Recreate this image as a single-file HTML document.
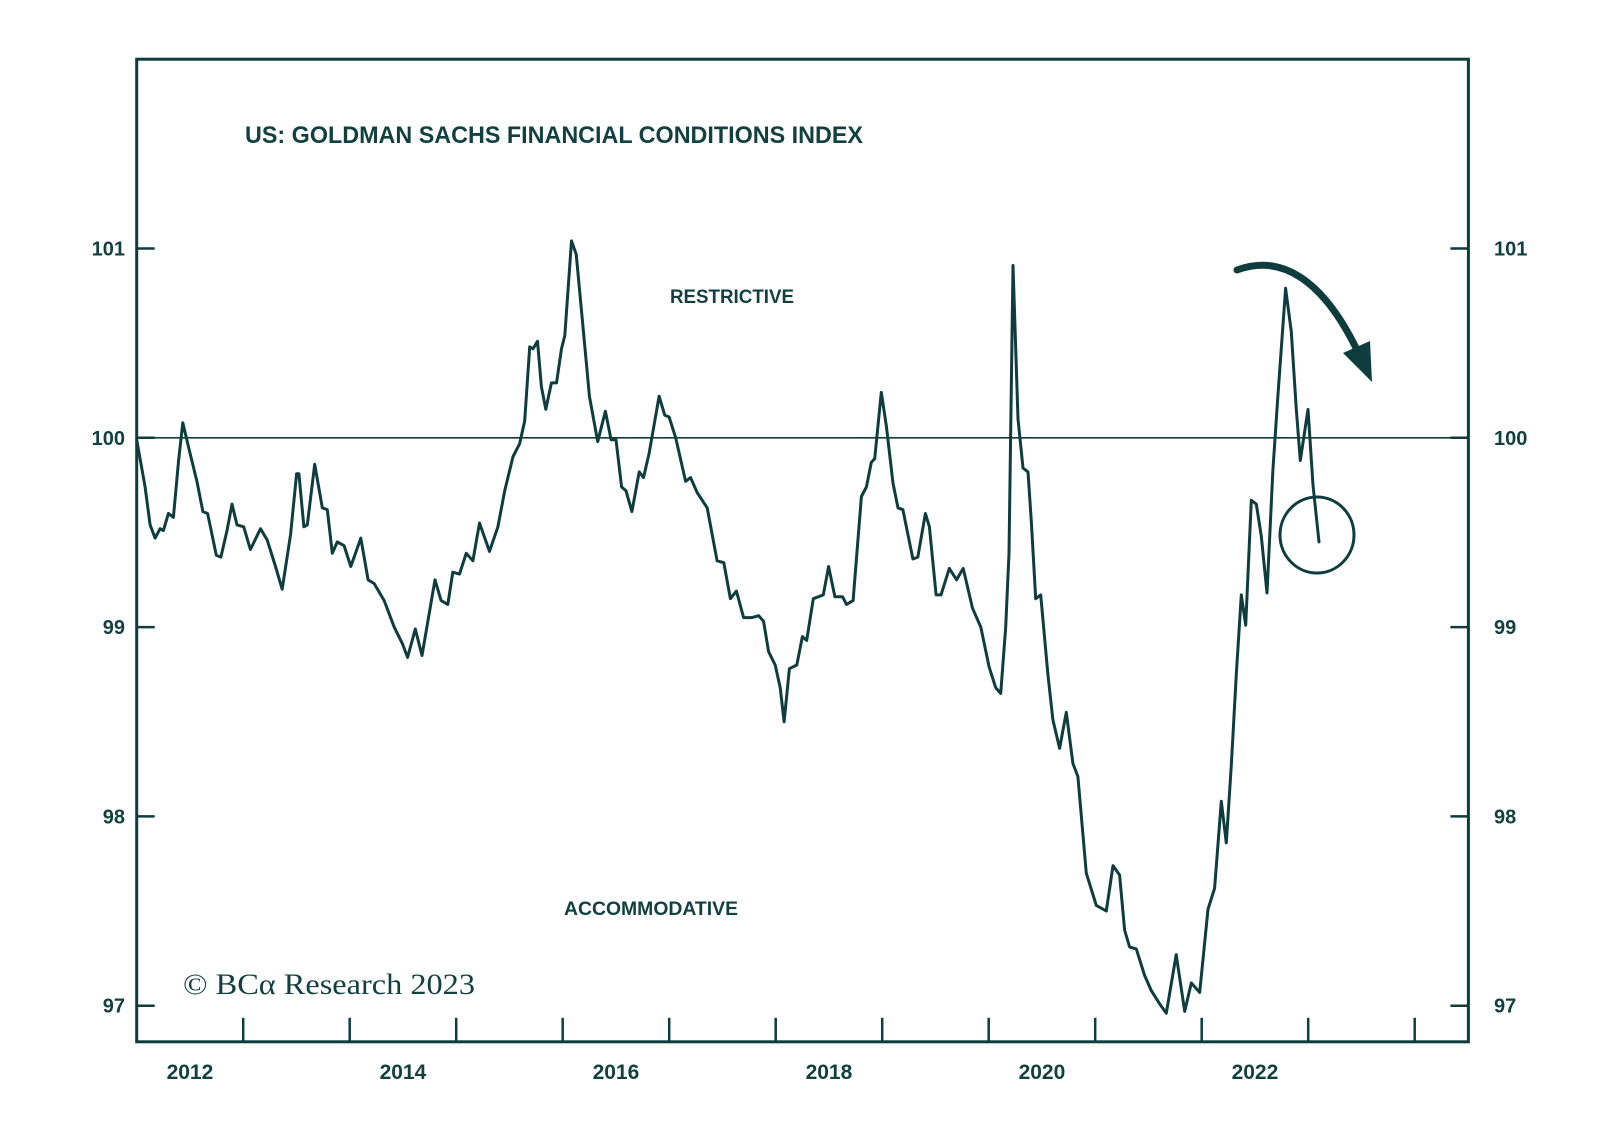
<!DOCTYPE html>
<html><head><meta charset="utf-8"><style>
html,body{margin:0;padding:0;background:#fff;}
svg{display:block;}
</style></head><body>
<svg id="chart" width="1600" height="1123" viewBox="0 0 1600 1123" xmlns="http://www.w3.org/2000/svg">
<rect x="0" y="0" width="1600" height="1123" fill="#ffffff"/>
<g id="axes"></g>
<g id="series"></g>
<text x="245" y="143" font-family="Liberation Sans, sans-serif" font-weight="bold" font-size="24" fill="#123f40" textLength="618" lengthAdjust="spacingAndGlyphs">US: GOLDMAN SACHS FINANCIAL CONDITIONS INDEX</text>
<text x="670" y="303" font-family="Liberation Sans, sans-serif" font-weight="bold" font-size="19" fill="#123f40" textLength="124" lengthAdjust="spacingAndGlyphs">RESTRICTIVE</text>
<text x="564" y="915" font-family="Liberation Sans, sans-serif" font-weight="bold" font-size="19" fill="#123f40" textLength="174" lengthAdjust="spacingAndGlyphs">ACCOMMODATIVE</text>
<text x="183" y="994" font-family="Liberation Serif, serif" font-size="30" fill="#123f40" textLength="292" lengthAdjust="spacingAndGlyphs">© BCα Research 2023</text>
<path d="M1237,270 C1280,254 1322,278 1357,350" fill="none" stroke="#0f3d3e" stroke-width="7" stroke-linecap="round"/>
<polygon points="1343,353 1370,341 1372,382" fill="#0f3d3e"/>
<ellipse cx="1317" cy="535" rx="37" ry="38" fill="none" stroke="#0f3d3e" stroke-width="3"/>
</svg>
<script>
const dates = [2012.000,2012.079,2012.126,2012.173,2012.220,2012.251,2012.298,2012.345,2012.393,2012.433,2012.487,2012.565,2012.622,2012.666,2012.747,2012.791,2012.848,2012.895,2012.942,2013.005,2013.068,2013.162,2013.225,2013.303,2013.366,2013.445,2013.501,2013.523,2013.570,2013.602,2013.671,2013.743,2013.790,2013.837,2013.884,2013.947,2014.010,2014.104,2014.173,2014.230,2014.324,2014.418,2014.497,2014.544,2014.616,2014.679,2014.801,2014.858,2014.921,2014.968,2015.031,2015.094,2015.157,2015.219,2015.313,2015.392,2015.455,2015.533,2015.596,2015.643,2015.690,2015.722,2015.763,2015.800,2015.841,2015.894,2015.942,2015.989,2016.020,2016.083,2016.127,2016.220,2016.251,2016.329,2016.401,2016.454,2016.500,2016.553,2016.594,2016.650,2016.718,2016.759,2016.812,2016.905,2016.958,2016.999,2017.061,2017.154,2017.201,2017.263,2017.357,2017.450,2017.513,2017.575,2017.631,2017.699,2017.777,2017.840,2017.886,2017.933,2017.995,2018.042,2018.079,2018.129,2018.198,2018.251,2018.291,2018.353,2018.447,2018.497,2018.556,2018.628,2018.665,2018.727,2018.805,2018.852,2018.898,2018.930,2018.992,2019.039,2019.101,2019.148,2019.194,2019.288,2019.334,2019.406,2019.443,2019.506,2019.552,2019.630,2019.699,2019.761,2019.848,2019.926,2020.004,2020.066,2020.113,2020.160,2020.191,2020.228,2020.275,2020.322,2020.369,2020.400,2020.441,2020.488,2020.556,2020.603,2020.666,2020.729,2020.791,2020.838,2020.916,2021.010,2021.104,2021.167,2021.229,2021.276,2021.323,2021.386,2021.464,2021.527,2021.605,2021.668,2021.761,2021.840,2021.902,2021.981,2022.059,2022.121,2022.184,2022.231,2022.278,2022.325,2022.372,2022.413,2022.466,2022.513,2022.560,2022.613,2022.669,2022.716,2022.788,2022.841,2022.888,2022.926,2022.998,2023.045,2023.101];
const values = [99.99,99.74,99.54,99.47,99.52,99.51,99.60,99.58,99.88,100.08,99.95,99.77,99.61,99.60,99.38,99.37,99.51,99.65,99.54,99.53,99.41,99.52,99.46,99.32,99.20,99.49,99.81,99.81,99.53,99.54,99.86,99.63,99.62,99.39,99.45,99.43,99.32,99.47,99.25,99.23,99.14,99.00,98.91,98.84,98.99,98.85,99.25,99.14,99.12,99.29,99.28,99.39,99.35,99.55,99.40,99.53,99.72,99.90,99.97,100.09,100.48,100.47,100.51,100.27,100.15,100.29,100.29,100.47,100.54,101.04,100.97,100.41,100.22,99.98,100.14,99.99,99.99,99.74,99.72,99.61,99.82,99.79,99.92,100.22,100.12,100.11,100.00,99.77,99.79,99.71,99.63,99.35,99.34,99.15,99.19,99.05,99.05,99.06,99.03,98.87,98.80,98.68,98.50,98.78,98.80,98.95,98.93,99.15,99.17,99.32,99.16,99.16,99.12,99.14,99.69,99.74,99.87,99.89,100.24,100.06,99.76,99.63,99.62,99.36,99.37,99.60,99.53,99.17,99.17,99.31,99.25,99.31,99.10,99.00,98.79,98.68,98.65,99.00,99.39,100.91,100.10,99.84,99.82,99.56,99.15,99.17,98.75,98.51,98.36,98.55,98.28,98.21,97.70,97.53,97.50,97.74,97.69,97.40,97.31,97.30,97.16,97.08,97.01,96.96,97.27,96.97,97.12,97.07,97.51,97.62,98.08,97.86,98.27,98.75,99.17,99.01,99.67,99.65,99.48,99.18,99.83,100.23,100.79,100.56,100.15,99.88,100.15,99.75,99.45];
const yTicks = [97,98,99,100,101];
const yearLabels = [2012,2014,2016,2018,2020,2022];
const yearTicks = [2013,2014,2015,2016,2017,2018,2019,2020,2021,2022,2023,2024];

const NS = "http://www.w3.org/2000/svg";
const L = 136.7, R = 1468.4, T = 59.2, B = 1041.8;
const C = "#0f3d3e";
function xs(d){ return L + (d - 2012) * 106.5; }
function ys(v){ return 437.8 - (v - 100) * 189.3; }
function mk(tag, attrs, parent){
  const e = document.createElementNS(NS, tag);
  for (const k in attrs) e.setAttribute(k, attrs[k]);
  parent.appendChild(e);
  return e;
}
const axes = document.getElementById('axes');
const series = document.getElementById('series');

const frame = mk('rect', {x:L, y:T, width:R-L, height:B-T, fill:'none', stroke:C, 'stroke-width':3}, axes);



const ref = mk('line', {x1:L, x2:R, y1:ys(100), y2:ys(100), stroke:C, 'stroke-width':1.6}, axes);



yTicks.forEach(function(v){
  const y = ys(v);
  const tl = mk('line', {x1:L, x2:L+18, y1:y, y2:y, stroke:C, 'stroke-width':2.5}, axes);
  
  
  const tr = mk('line', {x1:R-18, x2:R, y1:y, y2:y, stroke:C, 'stroke-width':2.5}, axes);
  
  
  const a = mk('text', {x:125, y:y+7, 'text-anchor':'end', 'font-family':'Liberation Sans, sans-serif', 'font-weight':'bold', 'font-size':20, fill:'#123f40'}, axes);
  a.textContent = String(v);
  
  
  const b = mk('text', {x:1494, y:y+7, 'text-anchor':'start', 'font-family':'Liberation Sans, sans-serif', 'font-weight':'bold', 'font-size':20, fill:'#123f40'}, axes);
  b.textContent = String(v);
  
  
});

yearTicks.forEach(function(d){
  const x = xs(d);
  const t = mk('line', {x1:x, x2:x, y1:B, y2:B-24, stroke:C, 'stroke-width':2.5}, axes);
  
  
});

yearLabels.forEach(function(d){
  const x = xs(d + 0.5);
  const t = mk('text', {x:x, y:1079, 'text-anchor':'middle', 'font-family':'Liberation Sans, sans-serif', 'font-weight':'bold', 'font-size':21, fill:'#123f40'}, axes);
  t.textContent = String(d);
  
  
});

let dStr = '';
for (let i = 0; i < dates.length; i++){
  dStr += (i ? 'L' : 'M') + xs(dates[i]).toFixed(1) + ',' + ys(values[i]).toFixed(1);
}
const line = mk('path', {d:dStr, fill:'none', stroke:C, 'stroke-width':3, 'stroke-linejoin':'round', 'stroke-linecap':'round'}, series);


</script>
</body></html>
